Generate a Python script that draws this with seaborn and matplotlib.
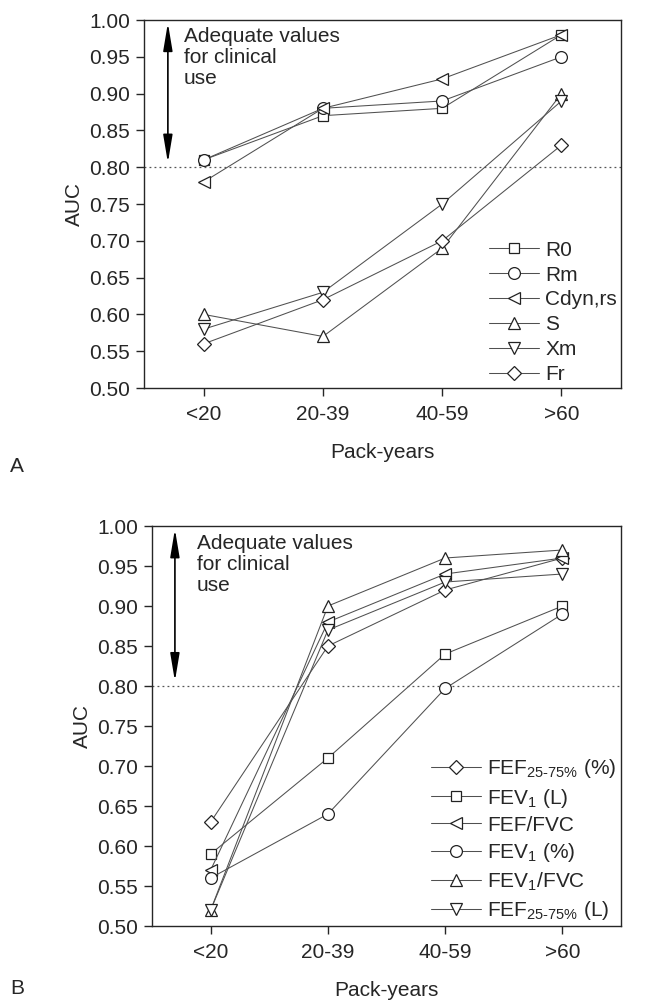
"""Recreate two-panel AUC vs pack-years chart (panels A and B)."""

import matplotlib
matplotlib.use("Agg")
import matplotlib.pyplot as plt
import pandas as pd
import seaborn as sns

PACK_YEARS = ["<20", "20-39", "40-59", ">60"]

# Panel A: oscillometry parameters
A_LABELS = ["R0", "Rm", "Cdyn,rs", "S", "Xm", "Fr"]
A_MARKERS = ["s", "o", "<", "^", "v", "D"]
A_R0 = [0.81, 0.87, 0.88, 0.98]
A_RM = [0.81, 0.88, 0.89, 0.95]
A_CDYN = [0.78, 0.88, 0.92, 0.98]
A_S = [0.60, 0.57, 0.69, 0.90]
A_XM = [0.58, 0.63, 0.75, 0.89]
A_FR = [0.56, 0.62, 0.70, 0.83]

# Panel B: spirometry parameters
B_LABELS = [
    r"FEF$_{\mathregular{25\text{-}75\%}}$ (%)",
    r"FEV$_{\mathregular{1}}$ (L)",
    "FEF/FVC",
    r"FEV$_{\mathregular{1}}$ (%)",
    r"FEV$_{\mathregular{1}}$/FVC",
    r"FEF$_{\mathregular{25\text{-}75\%}}$ (L)",
]
B_MARKERS = ["D", "s", "<", "o", "^", "v"]
B_FEF_PCT = [0.63, 0.85, 0.92, 0.96]
B_FEV1_L = [0.59, 0.71, 0.84, 0.90]
B_FEF_FVC = [0.57, 0.88, 0.94, 0.96]
B_FEV1_PCT = [0.56, 0.64, 0.797, 0.89]
B_FEV1_FVC = [0.52, 0.90, 0.96, 0.97]
B_FEF_L = [0.52, 0.87, 0.93, 0.94]

THRESHOLD = 0.80
NOTE = "Adequate values\nfor clinical\nuse"

sns.set_style("ticks")
plt.rcParams["font.family"] = ["Liberation Sans", "DejaVu Sans"]
plt.rcParams["mathtext.fontset"] = "custom"
plt.rcParams["mathtext.rm"] = "Liberation Sans"
plt.rcParams["mathtext.it"] = "Liberation Sans"

FS = 15
MSIZE = {"s": 7, "o": 8.5, "<": 9, "^": 9, "v": 9, "D": 7}


def draw(ax, labels, markers, series, arrow_x, text_x, spacing):
    for lab, mk, vals in zip(labels, markers, series):
        df = pd.DataFrame({"x": PACK_YEARS, "y": vals})
        sns.lineplot(
            data=df, x="x", y="y", ax=ax, color="#505050", lw=0.75,
            marker=mk, markersize=MSIZE[mk], markerfacecolor="white",
            markeredgecolor="#222222", markeredgewidth=0.9, label=lab,
            sort=False,
        )
    ax.axhline(THRESHOLD, color="#555555", lw=0.9, ls=(0, (1.5, 2.5)), zorder=0)
    ax.set_xlim(-0.5, 3.5)
    ax.set_ylim(0.5, 1.0)
    ax.set_yticks([0.50 + 0.05 * i for i in range(11)])
    ax.set_yticklabels([f"{0.50 + 0.05 * i:.2f}" for i in range(11)])
    ax.set_xlabel("Pack-years", fontsize=FS, labelpad=14)
    ax.set_ylabel("AUC", fontsize=FS, labelpad=4)
    ax.tick_params(labelsize=FS, direction="out", length=6, width=1, pad=4)
    ax.tick_params(axis="x", pad=6)
    for sp in ax.spines.values():
        sp.set_visible(True)
        sp.set_linewidth(1.0)
    ax.annotate(
        "", xy=(arrow_x, 0.806), xytext=(arrow_x, 0.996),
        arrowprops=dict(arrowstyle="<|-|>,head_length=1.2,head_width=0.2",
                        color="black", lw=1.2, mutation_scale=14,
                        shrinkA=0, shrinkB=0),
    )
    ax.text(text_x, 0.99, NOTE, fontsize=FS, va="top", ha="left",
            linespacing=1.12)
    ax.legend(
        loc="lower right", bbox_to_anchor=(1.0, 0.0), frameon=False,
        fontsize=FS, handlelength=2.4, handletextpad=0.3,
        labelspacing=spacing, borderpad=0.2, borderaxespad=0.0,
    )


fig = plt.figure(figsize=(6.47, 10.0), dpi=100)
ax_a = fig.add_axes([0.2226, 0.612, 0.7374, 0.368])
ax_b = fig.add_axes([0.235, 0.074, 0.725, 0.40])

draw(ax_a, A_LABELS, A_MARKERS,
     [A_R0, A_RM, A_CDYN, A_S, A_XM, A_FR], -0.30, -0.165, 0.28)
draw(ax_b, B_LABELS, B_MARKERS,
     [B_FEF_PCT, B_FEV1_L, B_FEF_FVC, B_FEV1_PCT, B_FEV1_FVC, B_FEF_L],
     -0.305, -0.118, 0.3)

fig.text(10 / 647, 1 - 466 / 1000, "A", fontsize=FS, va="center", ha="left")
fig.text(10 / 647, 1 - 988 / 1000, "B", fontsize=FS, va="center", ha="left")

fig.savefig("out.png", dpi=100)
